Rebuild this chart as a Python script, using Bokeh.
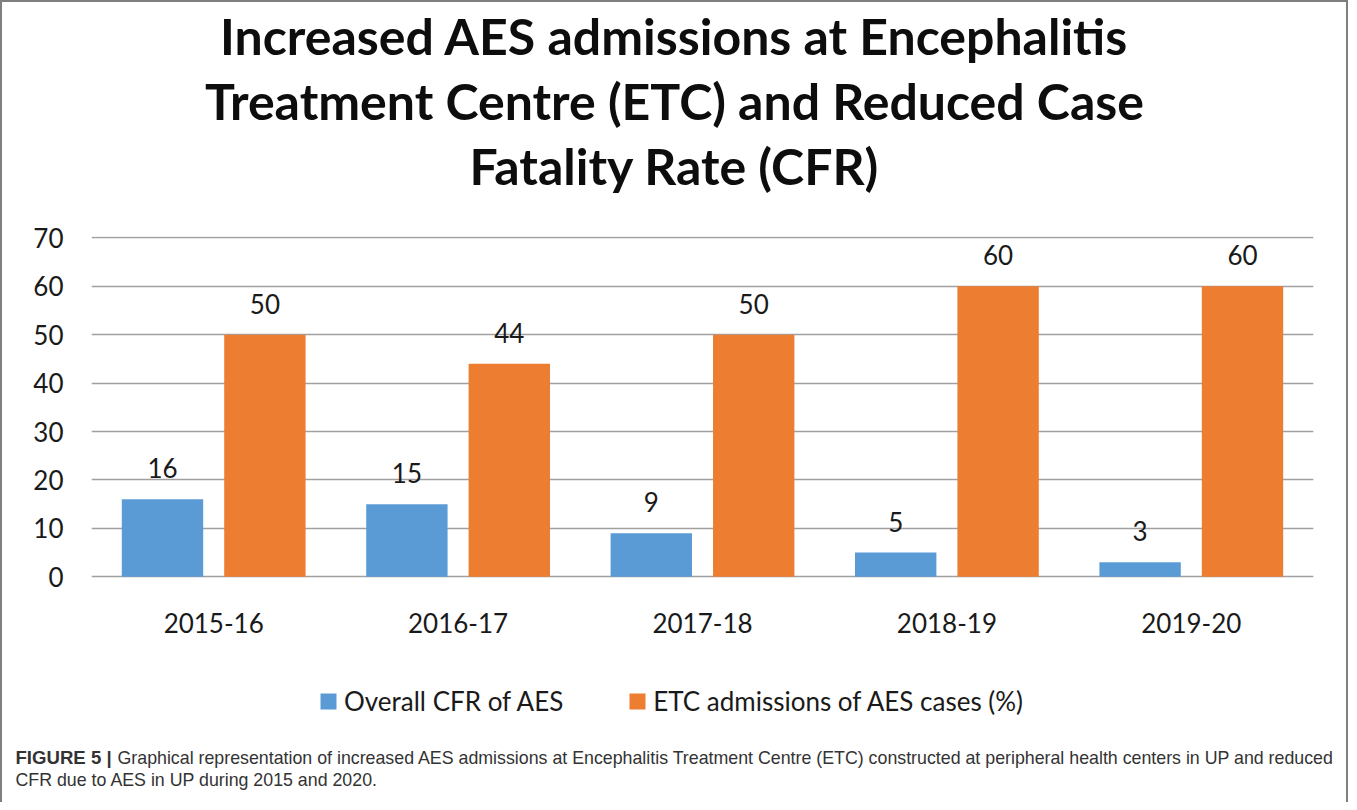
from bokeh.plotting import figure
from bokeh.layouts import column
from bokeh.models import (ColumnDataSource, Label, LabelSet, Legend, LegendItem,
                          Range1d, FactorRange, FixedTicker, CategoricalAxis)
from bokeh.transform import dodge
from bokeh.core.properties import value
from bokeh.embed import file_html
from bokeh.resources import INLINE

# ---- data ----
years = ["2015-16", "2016-17", "2017-18", "2018-19", "2019-20"]
cfr = [16, 15, 9, 5, 3]
etc = [50, 44, 50, 60, 60]
y_ticks = [0, 10, 20, 30, 40, 50, 60, 70]
series_names = ["Overall CFR of AES", "ETC admissions of AES cases (%)"]
title_lines = [
    "Increased AES admissions at Encephalitis",
    "Treatment Centre (ETC) and Reduced Case",
    "Fatality Rate (CFR)",
]
caption_bold = "FIGURE 5 |"
caption_line1 = ("Graphical representation of increased AES admissions at Encephalitis "
                 "Treatment Centre (ETC) constructed at peripheral health centers in UP and reduced")
caption_line2 = "CFR due to AES in UP during 2015 and 2020."

BLUE = "#5B9BD5"
ORANGE = "#ED7D31"
FONT = "Lato"
CAP_FONT = "Liberation Sans"
W = 1348
EDGE = "#7f7f7f"


def text_fig(h, shadow):
    f = figure(width=W, height=h, x_range=Range1d(0, W), y_range=Range1d(h, 0),
               output_backend="svg", toolbar_location=None, title=None,
               x_axis_location=None, y_axis_location=None, min_border=0)
    f.frame_align = False
    f.grid.visible = False
    f.outline_line_color = None
    f.background_fill_color = None
    f.border_fill_color = None
    f.styles = {"box-shadow": shadow}
    return f


# ---- title block ----
TH = 210
ft = text_fig(TH, f"inset 2px 0 0 {EDGE}, inset -2px 0 0 {EDGE}, inset 0 2px 0 {EDGE}")
for t, yb in zip(title_lines, [35, 100, 165]):
    ft.add_layout(Label(x=W / 2, y=yb, text=t, text_align="center", text_baseline="alphabetic",
                        text_font=FONT, text_font_style="bold", text_font_size="50px",
                        text_color="#0d0d0d"))

# ---- chart ----
src = ColumnDataSource(dict(
    year=years, cfr=cfr, etc=etc,
    cfr_txt=[str(v) for v in cfr], etc_txt=[str(v) for v in etc],
))

CH = 526
p = figure(width=W, height=CH, x_range=FactorRange(*years), y_range=Range1d(-32.98, 70.27),
           output_backend="svg", toolbar_location=None, title=None,
           x_axis_location=None,
           min_border_left=91, min_border_right=35, min_border_top=26, min_border_bottom=0)
p.frame_align = False
p.background_fill_color = None
p.border_fill_color = None
p.outline_line_color = None
p.styles = {"box-shadow": f"inset 2px 0 0 {EDGE}, inset -2px 0 0 {EDGE}"}

off = 0.2095
bw = 0.333
r1 = p.vbar(x=dodge("year", -off, range=p.x_range), top="cfr", bottom=0, width=bw, source=src,
            fill_color=BLUE, line_color=None)
r2 = p.vbar(x=dodge("year", off, range=p.x_range), top="etc", bottom=0, width=bw, source=src,
            fill_color=ORANGE, line_color=None)

for xo, fld in [(-off, "cfr"), (off, "etc")]:
    p.add_layout(LabelSet(x=dodge("year", xo, range=p.x_range), y=fld, text=fld + "_txt",
                          source=src, text_align="center", text_baseline="alphabetic",
                          y_offset=21, text_font=value(FONT), text_font_size="26px",
                          text_color="#1a1a1a"))

xaxis = CategoricalAxis(fixed_location=0)
p.add_layout(xaxis, "below")
p.yaxis.ticker = FixedTicker(ticks=y_ticks)
p.ygrid.ticker = FixedTicker(ticks=y_ticks)
for ax in (xaxis, p.yaxis[0]):
    ax.axis_line_color = None
    ax.major_tick_line_color = None
    ax.minor_tick_line_color = None
    ax.major_label_text_font = FONT
    ax.major_label_text_font_size = "26px"
    ax.major_label_text_color = "#1a1a1a"
p.yaxis.major_label_standoff = 22
xaxis.major_label_standoff = 30
p.xgrid.grid_line_color = None
p.ygrid.grid_line_color = "#a0a0a0"
p.ygrid.grid_line_width = 1.5

legend = Legend(items=[LegendItem(label=series_names[0], renderers=[r1]),
                       LegendItem(label=series_names[1], renderers=[r2])],
                orientation="horizontal", location=(227, 19),
                label_text_font=FONT, label_text_font_size="26px", label_text_color="#1a1a1a",
                glyph_width=20, glyph_height=20, label_standoff=6, spacing=64,
                padding=0, margin=0, border_line_color=None, background_fill_alpha=0)
p.add_layout(legend)

# ---- caption block ----
FH = 802 - TH - CH
fc = text_fig(FH, f"inset 2px 0 0 {EDGE}, inset -2px 0 0 {EDGE}")
fc.add_layout(Label(x=15, y=21, text=caption_bold, text_baseline="alphabetic",
                    text_font=CAP_FONT, text_font_style="bold", text_font_size="18.6px",
                    text_color="#333333"))
fc.add_layout(Label(x=117, y=21, text=caption_line1, text_baseline="alphabetic",
                    text_font=CAP_FONT, text_font_size="17.8px", text_color="#333333"))
fc.add_layout(Label(x=15, y=43, text=caption_line2, text_baseline="alphabetic",
                    text_font=CAP_FONT, text_font_size="17.8px", text_color="#333333"))

layout = column(ft, p, fc, spacing=0)
open("out.html", "w").write(file_html(layout, INLINE))
